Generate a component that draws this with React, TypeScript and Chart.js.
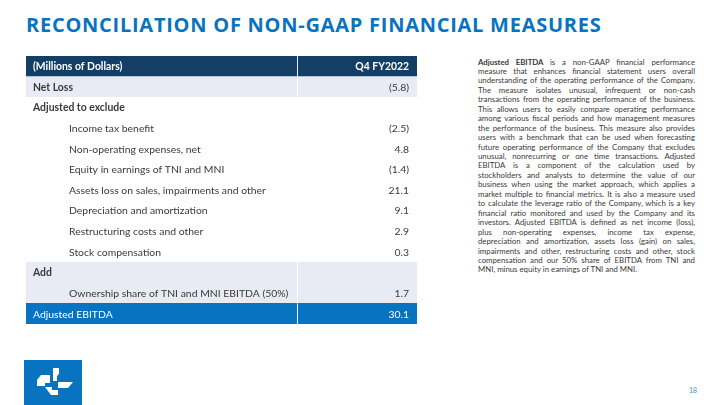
import React, { useEffect, useRef } from "react";
import { Chart, registerables } from "chart.js";

Chart.register(...registerables);

const titleText = "RECONCILIATION OF NON-GAAP FINANCIAL MEASURES";
const headerLabel = "(Millions of Dollars)";
const headerValue = "Q4 FY2022";
const rowLabels = [
  "Net Loss",
  "Adjusted to exclude",
  "Income tax benefit",
  "Non-operating expenses, net",
  "Equity in earnings of TNI and MNI",
  "Assets loss on sales, impairments and other",
  "Depreciation and amortization",
  "Restructuring costs and other",
  "Stock compensation",
  "Add",
  "Ownership share of TNI and MNI EBITDA (50%)",
  "Adjusted EBITDA",
];
const rowValues: (number | null)[] = [-5.8, null, -2.5, 4.8, -1.4, 21.1, 9.1, 2.9, 0.3, null, 1.7, 30.1];
const rowKinds = ["section", "section", "item", "item", "item", "item", "item", "item", "item", "section", "item", "total"];
const rowShaded = [true, false, false, false, false, false, false, false, false, true, true, false];

const paragraphLines = [
  "is a non-GAAP financial performance",
  "measure that enhances financial statement users overall",
  "understanding of the operating performance of the Company.",
  "The measure isolates unusual, infrequent or non-cash",
  "transactions from the operating performance of the business.",
  "This allows users to easily compare operating performance",
  "among various fiscal periods and how management measures",
  "the performance of the business. This measure also provides",
  "users with a benchmark that can be used when forecasting",
  "future operating performance of the Company that excludes",
  "unusual, nonrecurring or one time transactions. Adjusted",
  "EBITDA is a component of the calculation used by",
  "stockholders and analysts to determine the value of our",
  "business when using the market approach, which applies a",
  "market multiple to financial metrics. It is also a measure used",
  "to calculate the leverage ratio of the Company, which is a key",
  "financial ratio monitored and used by the Company and its",
  "investors. Adjusted EBITDA is defined as net income (loss),",
  "plus non-operating expenses, income tax expense,",
  "depreciation and amortization, assets loss (gain) on sales,",
  "impairments and other, restructuring costs and other, stock",
  "compensation and our 50% share of EBITDA from TNI and",
  "MNI, minus equity in earnings of TNI and MNI.",
];

const NAVY = "#133F66";
const BLUE = "#0873C0";
const SHADE = "#E8EBF4";
const TEXT = "#3A3A3A";

function fmt(v: number | null) {
  if (v === null) return "";
  return v < 0 ? "(" + Math.abs(v).toFixed(1) + ")" : v.toFixed(1);
}

const TableChart: React.FC = () => {
  const ref = useRef<HTMLCanvasElement | null>(null);
  useEffect(() => {
    if (!ref.current) return;
    const labels = [headerLabel, ...rowLabels];
    const colors = labels.map((_, i) => {
      if (i === 0) return NAVY;
      const k = i - 1;
      if (rowKinds[k] === "total") return BLUE;
      return rowShaded[k] ? SHADE : "#FFFFFF";
    });
    const textPlugin = {
      id: "tableText",
      afterDatasetsDraw(chart: any) {
        const ctx = chart.ctx;
        const ys = chart.scales.y;
        const area = chart.chartArea;
        const rowH = (area.bottom - area.top) / labels.length;
        const divX = area.left + 271;
        ctx.save();
        labels.forEach((lab, i) => {
          const yc = ys.getPixelForValue(i);
          const top = yc - rowH / 2;
          if (colors[i] !== "#FFFFFF") {
            ctx.strokeStyle = "rgba(255,255,255,0.9)";
            ctx.lineWidth = 1;
            ctx.beginPath();
            ctx.moveTo(divX + 0.5, top);
            ctx.lineTo(divX + 0.5, top + rowH);
            ctx.stroke();
          }
          let color = TEXT;
          let weight = "normal";
          let x = area.left + 7;
          let val = "";
          if (i === 0) {
            color = "#FFFFFF";
            weight = "bold";
            val = headerValue;
          } else {
            const k = i - 1;
            const kind = rowKinds[k];
            val = fmt(rowValues[k]);
            if (kind === "section") weight = "bold";
            if (kind === "item") x = area.left + 43;
            if (kind === "total") color = "#FFFFFF";
          }
          ctx.fillStyle = color;
          ctx.textBaseline = "middle";
          ctx.font = weight + " 10.4px Lato";
          ctx.textAlign = "left";
          ctx.fillText(lab, x, yc + 0.5);
          ctx.font = (i === 0 ? "bold" : "normal") + " 10.4px Lato";
          ctx.textAlign = "right";
          ctx.fillText(val, area.left + 383, yc + 0.5);
        });
        ctx.restore();
      },
    };
    const chart = new Chart(ref.current, {
      type: "bar",
      data: {
        labels,
        datasets: [
          {
            data: labels.map(() => 1),
            backgroundColor: colors,
            borderWidth: 0,
            barPercentage: 1,
            categoryPercentage: 1,
          },
        ],
      },
      options: {
        indexAxis: "y",
        responsive: false,
        maintainAspectRatio: false,
        animation: false,
        events: [],
        layout: { padding: 0 },
        scales: {
          x: { display: false, min: 0, max: 1 },
          y: { display: false },
        },
        plugins: { legend: { display: false }, tooltip: { enabled: false } },
      },
      plugins: [textPlugin],
    } as any);
    return () => chart.destroy();
  }, []);
  return (
    <canvas
      ref={ref}
      width={391}
      height={268}
      style={{ position: "absolute", left: 26, top: 55.5, width: 391, height: 268 }}
    />
  );
};

const App: React.FC = () => {
  const lineH = 9.45;
  return (
    <div
      style={{
        position: "fixed",
        left: 0,
        top: 0,
        width: 720,
        height: 405,
        background: "#FFFFFF",
        overflow: "hidden",
        fontFamily: "Lato, sans-serif",
      }}
    >
      <div
        style={{
          position: "absolute",
          left: 26,
          top: 14.5,
          fontFamily: "'Open Sans', sans-serif",
          fontWeight: 700,
          fontSize: 20,
          letterSpacing: 0.75,
          lineHeight: "20px",
          color: BLUE,
          whiteSpace: "nowrap",
        }}
      >
        {titleText}
      </div>
      <TableChart />
      {paragraphLines.map((ln, i) => (
        <div
          key={i}
          style={{
            position: "absolute",
            left: 478,
            top: 57.5 + i * lineH,
            width: 217,
            height: lineH,
            fontSize: 7.8,
            lineHeight: lineH + "px",
            color: TEXT,
            textAlign: "justify",
            textAlignLast: i === paragraphLines.length - 1 ? "left" : "justify",
            whiteSpace: "nowrap",
          } as any}
        >
          {i === 0 ? <b>Adjusted EBITDA </b> : null}
          {ln}
        </div>
      ))}
      <svg
        width={720}
        height={405}
        style={{ position: "absolute", left: 0, top: 0, pointerEvents: "none" }}
      >
        <rect x={24} y={360} width={58} height={45} fill={BLUE} />
        <polygon points="37,380 41,375 50,375 50,383 45,383 45,386 37,386" fill="#FFF" />
        <polygon points="53,368 59,368 59,374 57,376 57,381 53,381" fill="#FFF" />
        <polygon points="58,382 73,382 68,388 58,388" fill="#FFF" />
        <polygon points="45,387 52,387 52,390 58,390 58,395 51,395" fill="#FFF" />
      </svg>
      <div
        style={{
          position: "absolute",
          left: 689,
          top: 385,
          fontSize: 7,
          lineHeight: "10px",
          color: "#3D8ED3",
        }}
      >
        18
      </div>
    </div>
  );
};

export default App;
